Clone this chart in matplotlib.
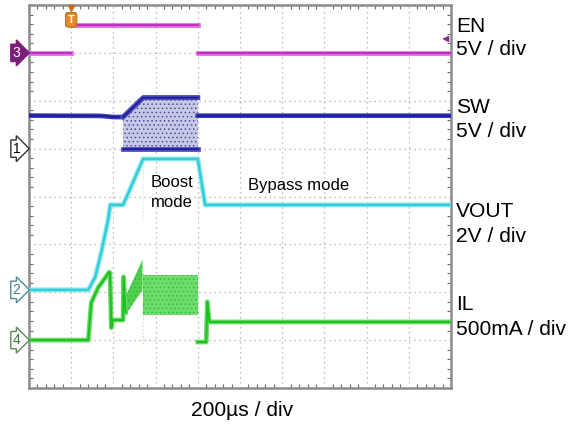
import numpy as np
import matplotlib.pyplot as plt
import matplotlib.patheffects as pe
import matplotlib.transforms as mtransforms
from matplotlib import font_manager

plt.rcParams['font.family'] = ['Liberation Sans', 'DejaVu Sans']
plt.rcParams['hatch.linewidth'] = 0.6

# 200 us/div, 10 x 8 divisions, time relative to the trigger (us)
t_div = 200
t_left = -200
n_hdiv, n_vdiv = 10, 8

# units per division and ground position (divisions from the bottom)
en_scale, en_pos = 5.0, 7.0
sw_scale, sw_pos = 5.0, 5.0
vout_scale, vout_pos = 2.0, 2.05
il_scale, il_pos = 0.5, 1.0

# EN (V), edges too fast to be drawn
en_t = [-200, 0, np.nan, 0, 600, np.nan, 600, 1800]
en_v = [0.0, 0.0, np.nan, 2.9, 2.9, np.nan, 0.0, 0.0]
trig_level = 1.45

# SW (V) outside and around the switching burst
sw_t = [-200, 140, 200, 246, 341, 600, np.nan, 600, 1800]
sw_v = [3.45, 3.42, 3.3, 3.3, 5.32, 5.32, np.nan, 3.44, 3.44]
sw_burst_t = [246, 341, 600]
sw_burst_hi = [3.3, 5.32, 5.32]
sw_burst_lo = [0.0, 0.0, 0.0]

# VOUT (V)
vout_t = [-200, 81, 114, 142, 175, 185, 246, 341, 600, 635, 1800]
vout_v = [0.0, 0.0, 0.54, 1.54, 2.92, 3.55, 3.55, 5.47, 5.47, 3.55, 3.55]

# IL (A)
il_t = [-200, 81, 95, 128, 161, 180, 184, 190, 196, 246, 248, 258,
        np.nan, 600, 640, 645, 655, 1800]
il_a = [0.0, 0.0, 0.39, 0.55, 0.65, 0.71, 0.70, 0.13, 0.21, 0.21, 0.66, 0.29,
        np.nan, -0.02, -0.02, 0.40, 0.19, 0.19]
il_ramp_t = [256, 338]
il_ramp_lo = [0.26, 0.52]
il_ramp_hi = [0.45, 0.84]
il_band_t = [341, 600]
il_band_lo = [0.26, 0.26]
il_band_hi = [0.68, 0.68]

# single glitch captured at the end of the soft start
glitch_t = 341
glitch_vout = [5.47, 2.9]
glitch_il = [0.70, -0.05]


def to_div(vals, scale, pos):
    return np.asarray(vals, dtype=float) / scale + pos


def fuzzy(light):
    return [pe.Stroke(linewidth=3.4, foreground=light), pe.Normal()]


fig = plt.figure(figsize=(5.74, 4.26), dpi=100)
ax = fig.add_axes([29 / 574, 38 / 426, 422 / 574, 383 / 426])
ax.set_xlim(t_left, t_left + n_hdiv * t_div)
ax.set_ylim(0, n_vdiv)

# graticule
ax.set_xticks(np.arange(t_left, t_left + n_hdiv * t_div + 1, t_div))
ax.set_yticks(np.arange(0, n_vdiv + 1))
ax.set_xticks(np.arange(t_left, t_left + n_hdiv * t_div + 1, t_div / 5), minor=True)
ax.set_yticks(np.arange(0, n_vdiv + 0.01, 0.2), minor=True)
ax.grid(which='major', color='#a8a8a8', linestyle=(0, (1, 3)), linewidth=0.9)
ax.tick_params(which='both', direction='in', top=True, right=True,
               labelleft=False, labelbottom=False, color='#6a6a6a')
ax.tick_params(which='major', length=0)
ax.tick_params(which='minor', length=3, width=0.8)
for s in ax.spines.values():
    s.set_color('#8c8c8c')
    s.set_linewidth(1.8)

# switching clouds
ax.fill_between(sw_burst_t, to_div(sw_burst_lo, sw_scale, sw_pos),
                to_div(sw_burst_hi, sw_scale, sw_pos),
                facecolor='#c6c8e4', edgecolor='#4a4f9e', hatch='....', linewidth=0, zorder=2)
ax.fill_between(il_ramp_t, to_div(il_ramp_lo, il_scale, il_pos),
                to_div(il_ramp_hi, il_scale, il_pos),
                facecolor='#52d052', edgecolor='#2fb82f', hatch='....', linewidth=0, zorder=2)
ax.fill_between(il_band_t, to_div(il_band_lo, il_scale, il_pos),
                to_div(il_band_hi, il_scale, il_pos),
                facecolor='#6edc6e', edgecolor='#32c032', hatch='....', linewidth=0, zorder=2)

# glitches
ax.plot([glitch_t, glitch_t], to_div(glitch_vout, vout_scale, vout_pos),
        color='#4fd6e0', lw=1, alpha=0.35, ls=(0, (1, 1.5)), zorder=2)
ax.plot([glitch_t, glitch_t], to_div(glitch_il, il_scale, il_pos),
        color='#33bb33', lw=1, alpha=0.35, ls=(0, (1, 1.5)), zorder=2)

# traces
ax.plot(en_t, to_div(en_v, en_scale, en_pos), color='#c22fc2', lw=1.4,
        path_effects=fuzzy('#de6ade'), zorder=3)
ax.plot(sw_t, to_div(sw_v, sw_scale, sw_pos), color='#1c1c96', lw=1.4,
        path_effects=fuzzy('#3d3db8'), zorder=3)
ax.plot(sw_burst_t, to_div(sw_burst_hi, sw_scale, sw_pos), color='#1c1c96', lw=1.2,
        path_effects=fuzzy('#4a4abd'), zorder=3)
ax.plot(sw_burst_t, to_div(sw_burst_lo, sw_scale, sw_pos), color='#1c1c96', lw=1.2,
        path_effects=fuzzy('#4a4abd'), zorder=3)
ax.plot(vout_t, to_div(vout_v, vout_scale, vout_pos), color='#2ccbd6', lw=1.4,
        path_effects=fuzzy('#7ee5ec'), zorder=3)
ax.plot(il_t, to_div(il_a, il_scale, il_pos), color='#1fbf1f', lw=1.4,
        path_effects=fuzzy('#62da62'), zorder=3)

# channel ground markers
blend = mtransforms.blended_transform_factory(ax.transAxes, ax.transData)
markers = [('3', en_pos, 'white', '#7b1f7b', '#7b1f7b'),
           ('1', sw_pos, 'black', 'white', '#333333'),
           ('2', vout_pos, '#3f7f80', 'white', '#4d8f90'),
           ('4', il_pos, '#3f6f3f', 'white', '#5a8a5a')]
for label, pos, tc, fc, ec in markers:
    ax.text(-0.030, pos, label, transform=blend, ha='center', va='center',
            fontsize=10, color=tc, clip_on=False, zorder=5,
            bbox=dict(boxstyle='rarrow,pad=0.12', fc=fc, ec=ec, lw=1))

# trigger position and level
ax.text(0, 7.69, 'T', ha='center', va='center', fontsize=8, color='white',
        fontweight='bold', zorder=6,
        bbox=dict(boxstyle='round,pad=0.2', fc='#e38a2c', ec='#c46d1a', lw=0.8))
ax.plot([0], [7.93], marker='v', color='#c46d1a', ms=5, clip_on=False, zorder=6)
ax.annotate('', xy=(1745, to_div(trig_level, en_scale, en_pos)),
            xytext=(1790, to_div(trig_level, en_scale, en_pos)),
            arrowprops=dict(arrowstyle='-|>', color='#8a2a8a', lw=1.2,
                            mutation_scale=8), zorder=6)

# in-plot annotations
try:
    font_manager.findfont('Liberation Sans Narrow', fallback_to_default=False)
    narrow = dict(family='Liberation Sans Narrow', fontsize=15)
except ValueError:
    narrow = dict(family='Liberation Sans', fontsize=12)
ax.text(377, 4.20, 'Boost', va='baseline', zorder=7, **narrow)
ax.text(379, 3.78, 'mode', va='baseline', zorder=7, **narrow)
ax.text(839, 4.13, 'Bypass mode', va='baseline', zorder=7, **narrow)

# channel labels on the right
labels = [('EN', 7.43), ('5V / div', 6.95), ('SW', 5.74), ('5V / div', 5.24),
          ('VOUT', 3.57), ('2V / div', 3.05), ('IL', 1.63), ('500mA / div', 1.11)]
for txt, y in labels:
    ax.text(1.012, y, txt, transform=blend, va='baseline', ha='left',
            fontsize=15.1, clip_on=False)

fig.text(242 / 574, 1 - 410 / 426, '200µs / div', ha='center', va='center', fontsize=15.1)

fig.savefig('out.png', dpi=100)
